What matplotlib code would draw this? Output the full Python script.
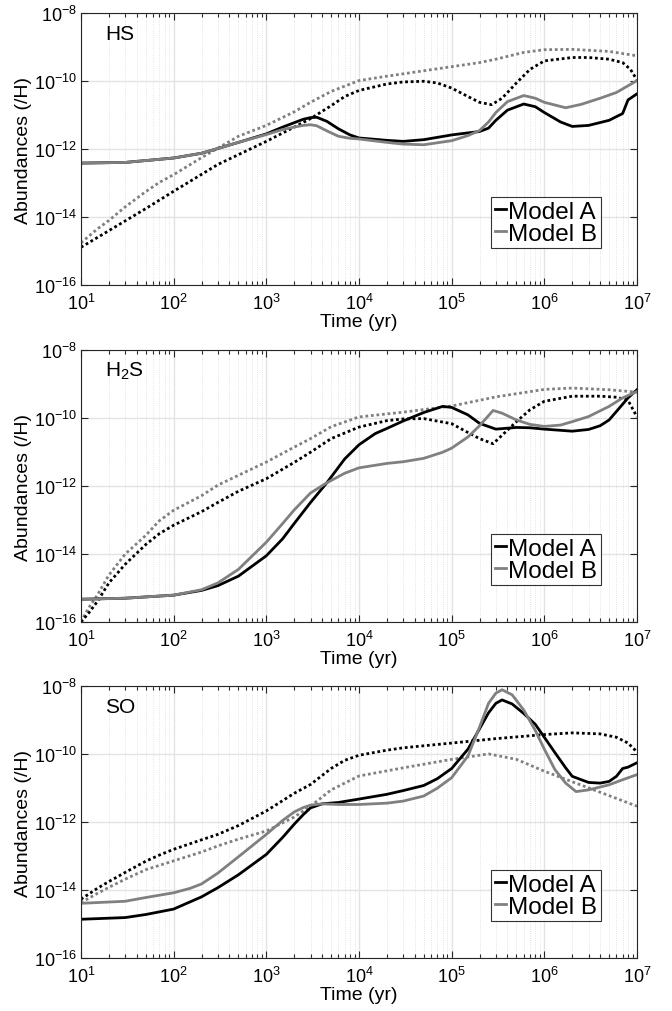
import numpy as np
import matplotlib
matplotlib.use("Agg")
import matplotlib.pyplot as plt
from matplotlib.ticker import LogLocator, NullLocator, LogFormatterSciNotation

plt.rcParams["font.family"] = ["Liberation Sans Narrow", "Liberation Sans", "DejaVu Sans"]
plt.rcParams["mathtext.fontset"] = "custom"
plt.rcParams["mathtext.rm"] = "Liberation Sans"

# ---- data (log10 abundance vs time in yr) ----
# HS
hs_a_t = [10, 30, 100, 200, 300, 500, 1000, 1500, 2000, 2500, 3000, 3500, 4500, 6000, 8000, 1e4, 2e4, 3e4, 5e4,
          1e5, 1.5e5, 2e5, 2.5e5, 3e5, 4e5, 6e5, 8e5, 1e6, 1.5e6, 2e6, 3e6, 5e6, 7e6, 8e6, 1e7]
hs_a = [-12.41, -12.39, -12.26, -12.12, -11.98, -11.80, -11.55, -11.35, -11.22, -11.12, -11.07, -11.06, -11.18,
        -11.40, -11.58, -11.67, -11.74, -11.77, -11.72, -11.58, -11.52, -11.48, -11.38, -11.15, -10.85, -10.67,
        -10.75, -10.92, -11.20, -11.33, -11.30, -11.15, -10.95, -10.55, -10.37]
hs_b_t = [10, 30, 100, 200, 300, 500, 1000, 1500, 2000, 2500, 3000, 3500, 4500, 6000, 8000, 1e4, 2e4, 3e4, 5e4,
          1e5, 1.5e5, 2e5, 2.5e5, 3e5, 4e5, 6e5, 8e5, 1e6, 1.7e6, 2.5e6, 4e6, 6e6, 1e7]
hs_b = [-12.41, -12.39, -12.26, -12.12, -11.98, -11.80, -11.57, -11.42, -11.35, -11.30, -11.28, -11.31, -11.46,
        -11.62, -11.68, -11.70, -11.80, -11.85, -11.87, -11.75, -11.60, -11.45, -11.20, -10.92, -10.60, -10.42,
        -10.50, -10.62, -10.78, -10.68, -10.50, -10.33, -9.98]
hs_a2_t = [10, 20, 50, 100, 300, 1000, 2000, 3000, 5000, 7000, 1e4, 2e4, 3e4, 5e4, 7e4, 1e5, 1.5e5, 2e5,
           2.7e5, 3.5e5, 5e5, 7e5, 1e6, 2e6, 3e6, 5e6, 7e6, 8.5e6, 1e7]
hs_a2 = [-14.89, -14.40, -13.75, -13.24, -12.45, -11.77, -11.35, -11.10, -10.72, -10.45, -10.27, -10.08, -10.02,
         -10.00, -10.05, -10.20, -10.45, -10.62, -10.69, -10.50, -10.05, -9.65, -9.40, -9.30, -9.30, -9.35,
         -9.45, -9.65, -9.96]
hs_b2_t = [10, 15, 20, 30, 50, 70, 100, 200, 300, 500, 1000, 2000, 3000, 5000, 1e4, 2e4, 3e4, 1e5, 2e5, 3e5,
           6e5, 1e6, 2e6, 5e6, 1e7]
hs_b2 = [-14.76, -14.35, -14.10, -13.70, -13.25, -12.98, -12.75, -12.25, -11.97, -11.62, -11.30, -10.90, -10.62,
         -10.30, -9.98, -9.85, -9.78, -9.57, -9.45, -9.35, -9.15, -9.07, -9.06, -9.12, -9.25]

# H2S
h2s_a_t = [10, 30, 100, 200, 300, 500, 1000, 1500, 2000, 3000, 4500, 7000, 1e4, 1.5e4, 2e4, 3e4, 5e4, 8e4,
           1e5, 1.5e5, 2e5, 3e5, 5e5, 7e5, 1e6, 2e6, 3e6, 4e6, 5e6, 6e6, 8e6, 1e7]
h2s_a = [-15.33, -15.30, -15.21, -15.07, -14.93, -14.65, -14.05, -13.55, -13.10, -12.48, -11.90, -11.20, -10.78,
         -10.45, -10.30, -10.08, -9.83, -9.65, -9.68, -9.90, -10.15, -10.32, -10.27, -10.28, -10.32, -10.38,
         -10.33, -10.22, -10.05, -9.80, -9.40, -9.16]
h2s_b_t = [10, 30, 100, 200, 300, 500, 1000, 1500, 2000, 3000, 4500, 7000, 1e4, 2e4, 3e4, 5e4, 8e4, 1e5,
           1.5e5, 2e5, 2.8e5, 3.5e5, 5e5, 7e5, 1e6, 1.5e6, 2e6, 3e6, 5e6, 7e6, 1e7]
h2s_b = [-15.33, -15.30, -15.21, -15.05, -14.85, -14.45, -13.65, -13.10, -12.70, -12.20, -11.90, -11.62, -11.46,
         -11.33, -11.28, -11.18, -11.00, -10.88, -10.55, -10.22, -9.77, -9.85, -10.05, -10.18, -10.24, -10.20,
         -10.10, -9.95, -9.65, -9.40, -9.21]
h2s_a2_t = [10, 12, 15, 20, 30, 50, 70, 100, 200, 300, 500, 1000, 2000, 3000, 5000, 1e4, 2e4, 3e4, 5e4, 1e5,
            1.5e5, 2e5, 2.8e5, 3.5e5, 5e5, 7e5, 1e6, 2e6, 4e6, 6e6, 8e6, 1e7]
h2s_a2 = [-16.0, -15.75, -15.40, -14.85, -14.30, -13.72, -13.40, -13.15, -12.75, -12.48, -12.15, -11.78, -11.30,
          -11.00, -10.60, -10.26, -10.07, -10.02, -10.01, -10.16, -10.42, -10.60, -10.75, -10.50, -10.10, -9.75,
          -9.50, -9.35, -9.35, -9.38, -9.47, -9.96]
h2s_b2_t = [10, 12, 15, 20, 30, 50, 70, 100, 200, 300, 500, 1000, 2000, 3000, 5000, 1e4, 3e4, 1e5, 3e5, 1e6,
            2e6, 5e6, 1e7]
h2s_b2 = [-16.0, -15.60, -15.21, -14.62, -14.00, -13.45, -13.02, -12.71, -12.28, -11.97, -11.68, -11.29, -10.85,
          -10.60, -10.25, -9.96, -9.82, -9.64, -9.37, -9.15, -9.11, -9.16, -9.23]

# SO
so_a_t = [10, 30, 50, 100, 200, 300, 500, 1000, 1500, 2000, 2500, 3000, 4000, 6000, 1e4, 2e4, 3e4, 5e4, 7e4, 1e5,
          1.5e5, 2e5, 2.5e5, 3e5, 3.5e5, 4.5e5, 6e5, 8e5, 1e6, 1.3e6, 1.7e6, 2e6, 3e6, 4e6, 5e6, 6e6, 7e6, 8e6, 1e7]
so_a = [-14.86, -14.81, -14.72, -14.56, -14.20, -13.93, -13.55, -12.95, -12.45, -12.06, -11.78, -11.58, -11.46,
        -11.42, -11.32, -11.18, -11.07, -10.92, -10.72, -10.42, -9.85, -9.25, -8.78, -8.50, -8.40, -8.52, -8.80,
        -9.12, -9.50, -9.95, -10.40, -10.65, -10.83, -10.85, -10.80, -10.65, -10.42, -10.38, -10.25]
so_b_t = [10, 30, 50, 100, 150, 200, 300, 500, 1000, 1500, 2000, 2500, 3000, 4000, 6000, 1e4, 2e4, 3e4, 5e4, 7e4,
          1e5, 1.5e5, 2e5, 2.5e5, 3e5, 3.5e5, 4.5e5, 6e5, 8e5, 1e6, 1.3e6, 1.7e6, 2.2e6, 3e6, 5e6, 7e6, 1e7]
so_b = [-14.39, -14.33, -14.22, -14.08, -13.95, -13.82, -13.50, -13.02, -12.36, -11.95, -11.70, -11.57, -11.50,
        -11.46, -11.48, -11.48, -11.44, -11.38, -11.23, -11.00, -10.69, -10.05, -9.20, -8.50, -8.20, -8.10, -8.25,
        -8.70, -9.30, -9.85, -10.45, -10.85, -11.10, -11.05, -10.90, -10.75, -10.60]
so_a2_t = [10, 15, 20, 30, 50, 70, 100, 200, 300, 500, 1000, 2000, 3000, 5000, 7000, 1e4, 2e4, 3e4, 1e5, 3e5,
           1e6, 2e6, 4e6, 6e6, 8e6, 1e7]
so_a2 = [-14.27, -13.95, -13.75, -13.48, -13.15, -12.97, -12.80, -12.52, -12.36, -12.10, -11.67, -11.15, -10.89,
         -10.42, -10.18, -10.03, -9.88, -9.81, -9.67, -9.54, -9.42, -9.37, -9.40, -9.50, -9.67, -9.93]
so_b2_t = [10, 15, 20, 30, 50, 100, 200, 300, 500, 1000, 2000, 3000, 5000, 1e4, 3e4, 1e5, 2.5e5, 5e5, 1e6, 3e6,
           1e7]
so_b2 = [-14.37, -14.10, -13.92, -13.68, -13.40, -13.14, -12.88, -12.70, -12.50, -12.26, -11.85, -11.53, -11.05,
         -10.64, -10.40, -10.15, -9.99, -10.15, -10.50, -10.99, -11.53]

species = ["HS", r"H$\mathregular{_2}$S", "SO"]
panels = [
    (hs_a_t, hs_a, hs_b_t, hs_b, hs_a2_t, hs_a2, hs_b2_t, hs_b2),
    (h2s_a_t, h2s_a, h2s_b_t, h2s_b, h2s_a2_t, h2s_a2, h2s_b2_t, h2s_b2),
    (so_a_t, so_a, so_b_t, so_b, so_a2_t, so_a2, so_b2_t, so_b2),
]

black = "#000000"
gray = "#808080"

fig = plt.figure(figsize=(6.72, 10.12), dpi=100)
bottoms = [0.7174, 0.3844, 0.0524]

for i in range(3):
    ax = fig.add_axes([0.1205, bottoms[i], 0.8274, 0.2684])
    ta, a, tb, b, ta2, a2, tb2, b2 = panels[i]

    # dotted curves first, then the solid ones on top
    ax.plot(tb2, 10 ** np.array(b2), color=gray, lw=2.0, ls=(0, (1, 1)))
    ax.plot(ta2, 10 ** np.array(a2), color=black, lw=2.0, ls=(0, (1, 1)))
    ax.plot(ta, 10 ** np.array(a), color=black, lw=2.0, label="Model A")
    ax.plot(tb, 10 ** np.array(b), color=gray, lw=2.0, label="Model B")

    ax.set_xscale("log")
    ax.set_yscale("log")
    ax.set_xlim(10, 1e7)
    ax.set_ylim(1e-16, 1e-8)
    ax.set_xticks([10 ** k for k in range(1, 8)])
    ax.xaxis.set_minor_locator(LogLocator(base=10, subs=np.arange(2, 10), numticks=20))
    ax.set_yticks([1e-16, 1e-14, 1e-12, 1e-10, 1e-8])
    ax.yaxis.set_minor_locator(NullLocator())
    ax.xaxis.set_major_formatter(LogFormatterSciNotation())
    ax.yaxis.set_major_formatter(LogFormatterSciNotation())

    ax.grid(True, which="major", color="#e3e3e3", lw=1.0)
    ax.grid(True, which="minor", axis="x", color="#dcdcdc", lw=0.6, ls=":")
    ax.set_axisbelow(True)

    ax.tick_params(which="both", direction="in", top=True, right=True, colors="#262626",
                   labelcolor="black", labelsize=13, width=0.8)
    ax.tick_params(which="major", length=5)
    ax.tick_params(which="minor", length=3)
    ax.tick_params(axis="x", which="major", pad=6)
    ax.tick_params(axis="y", which="major", pad=3)
    for s in ax.spines.values():
        s.set_color("#262626")
        s.set_linewidth(0.8)

    ax.set_xlabel("Time (yr)", fontsize=14, labelpad=0)
    ax.set_ylabel("Abundances (/H)", fontsize=14, labelpad=1)
    ax.text(0.043, 0.925, species[i], transform=ax.transAxes, fontsize=15, va="center", ha="left")

    leg = ax.legend(loc="lower right", bbox_to_anchor=(0.935, 0.135), fontsize=17.5, frameon=True,
                    fancybox=False, handlelength=0.45, handletextpad=0.1, borderpad=0.15,
                    labelspacing=0.0, borderaxespad=0)
    leg.get_frame().set_edgecolor("black")
    leg.get_frame().set_linewidth(0.8)

plt.savefig("out.png", dpi=100)
